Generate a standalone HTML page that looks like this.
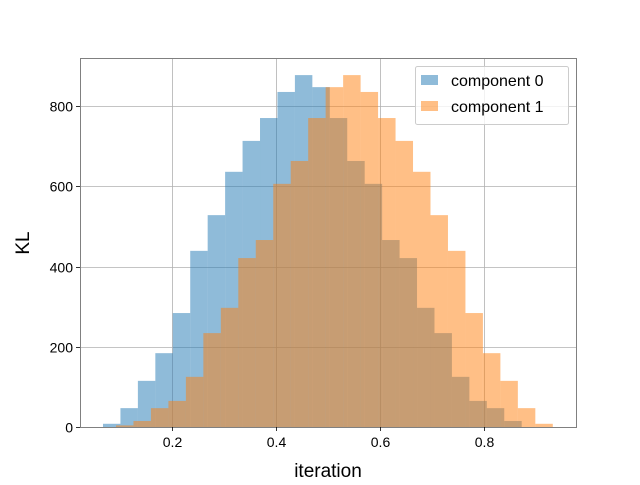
<!DOCTYPE html>
<html><head><meta charset="utf-8"><style>
body{margin:0;background:#fff;}
svg text{font-family:"Liberation Sans","DejaVu Sans",sans-serif;fill:#000;}
</style></head><body>
<svg id="chart" width="640" height="480" xmlns="http://www.w3.org/2000/svg">
<rect width="640" height="480" fill="#fff"/>
<g id="grid"></g>
<g id="bars"></g>
<rect x="80.5" y="58.5" width="496" height="369" fill="none" stroke="#808080" stroke-width="1"/>
<g id="ticks"></g>
<text x="328" y="477" font-size="19" text-anchor="middle">iteration</text>
<text x="0" y="0" font-size="19" text-anchor="middle" transform="translate(29,243) rotate(-90)">KL</text>
<g>
<rect x="415.5" y="66.5" width="153" height="58" fill="#fff" fill-opacity="0.8" stroke="#ccc" rx="2"/>
<rect x="421" y="75" width="17" height="10" fill="#1f77b4" fill-opacity="0.5"/>
<text x="451" y="86" font-size="16">component 0</text>
<rect x="421" y="101" width="17" height="10" fill="#ff7f0e" fill-opacity="0.5"/>
<text x="451" y="112" font-size="16">component 1</text>
</g>
</svg>
<script>
const comp0Start = 0.0673;
const comp0Width = 0.03355;
const comp0Counts = [8,47,115,184,284,439,528,636,713,770,835,877,847,770,663,606,466,421,297,234,125,65,47,15];
const comp1Start = 0.0923;
const comp1Width = 0.0336;
const comp1Counts = [4,15,47,65,125,234,297,421,466,606,663,770,847,877,835,770,713,636,528,439,284,184,115,47,8];
const xTicks = [0.2,0.4,0.6,0.8];
const yTicks = [0,200,400,600,800];

const X0=80, X1=576, Y0=427, Y1=58;
function sx(v){return 68 + v*520;}
function sy(v){return 427 - v*0.40125;}
const NS='http://www.w3.org/2000/svg';
const grid=document.getElementById('grid'), bars=document.getElementById('bars'), ticks=document.getElementById('ticks');
function mk(tag,attrs,parent){const e=document.createElementNS(NS,tag);for(const k in attrs)e.setAttribute(k,attrs[k]);parent.appendChild(e);return e;}

xTicks.forEach(t=>{
  const x=Math.round(sx(t))+0.5;
  const g=mk('line',{x1:x,x2:x,y1:Y1,y2:Y0,stroke:'#b0b0b0','stroke-width':0.8},grid);
  
  
  const tk=mk('line',{x1:x,x2:x,y1:Y0,y2:Y0+4,stroke:'#000','stroke-width':0.8},ticks);
  
  
  const tx=mk('text',{x:x,y:Y0+20,'font-size':14,'text-anchor':'middle'},ticks);
  tx.textContent=t.toFixed(1);
  
  
});
yTicks.forEach(t=>{
  const y=Math.round(sy(t))+0.5;
  const g=mk('line',{x1:X0,x2:X1,y1:y,y2:y,stroke:'#b0b0b0','stroke-width':0.8},grid);
  
  
  const tk=mk('line',{x1:X0-4,x2:X0,y1:y,y2:y,stroke:'#000','stroke-width':0.8},ticks);
  
  
  const tx=mk('text',{x:X0-7,y:y+5,'font-size':14,'text-anchor':'end'},ticks);
  tx.textContent=String(t);
  
  
});
function drawSeries(start,width,counts,color,name){
  counts.forEach((c,i)=>{
    const xa=sx(start+i*width), xb=sx(start+(i+1)*width);
    const r=mk('rect',{x:xa,y:sy(c),width:xb-xa,height:Y0-sy(c),fill:color,'fill-opacity':0.5},bars);
    
    
  });
}
drawSeries(comp0Start,comp0Width,comp0Counts,'#1f77b4','component-0');
drawSeries(comp1Start,comp1Width,comp1Counts,'#ff7f0e','component-1');
</script>
</body></html>
